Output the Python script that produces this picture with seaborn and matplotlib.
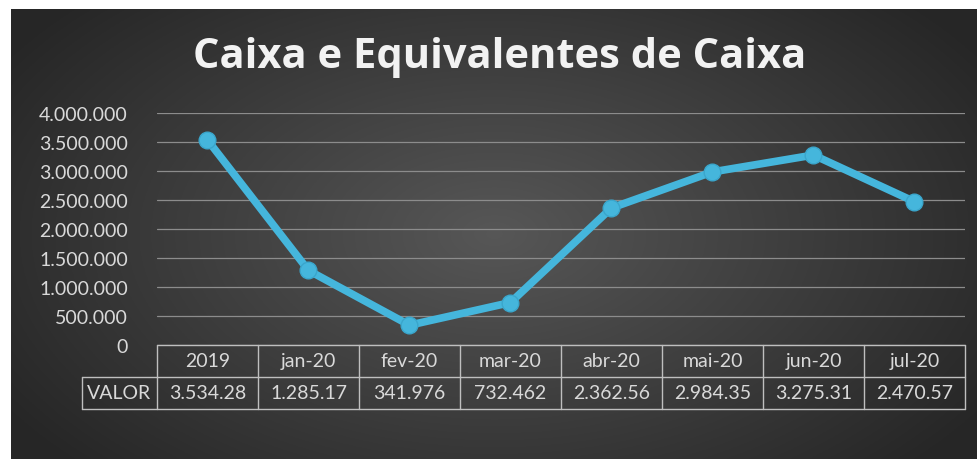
import numpy as np
import pandas as pd
import matplotlib
matplotlib.use("Agg")
import matplotlib.pyplot as plt
import seaborn as sns

# Data
categorias = ["2019", "jan-20", "fev-20", "mar-20", "abr-20", "mai-20", "jun-20", "jul-20"]
valores = [3534280, 1285170, 341976, 732462, 2362560, 2984350, 3275310, 2470570]
valor_labels = ["3.534.28", "1.285.17", "341.976", "732.462",
                "2.362.56", "2.984.35", "3.275.31", "2.470.57"]
y_ticks = [0, 500000, 1000000, 1500000, 2000000, 2500000, 3000000, 3500000, 4000000]

sns.set_style("dark")
plt.rcParams['font.family'] = ['Lato', 'DejaVu Sans']

W, H = 978, 460
fig = plt.figure(figsize=(W / 100, H / 100), dpi=100)
fig.patch.set_facecolor("white")

# Radial gradient background (dark Excel-like style)
bg = fig.add_axes([11 / W, 0, (W - 11) / W, (H - 10) / H])
gy, gx = np.mgrid[0:1:300j, 0:1:600j]
r = np.sqrt(((gx - 0.5) / 0.6) ** 2 + ((gy - 0.5) / 0.75) ** 2)
r = np.clip(r, 0, 1)
shade = 0.34 - 0.19 * r
bg.imshow(np.dstack([shade] * 3), aspect="auto", extent=[0, 1, 0, 1])
bg.set_axis_off()

# Plot area
ax = fig.add_axes([157 / W, (H - 346) / H, 808 / W, 232 / H])
ax.patch.set_alpha(0)
df = pd.DataFrame({"mes": categorias, "valor": valores})
sns.lineplot(data=df, x="mes", y="valor", ax=ax, color="#45b6dc", linewidth=5.5,
             marker="o", markersize=12, markeredgecolor="#3aa6cc",
             markeredgewidth=1, sort=False)
ax.set_xlim(-0.5, len(categorias) - 0.5)
ax.set_ylim(0, 4000000)
ax.set_yticks(y_ticks)
ax.set_yticklabels([f"{v:,}".replace(",", ".") for v in y_ticks])
ax.set_xticks([])
ax.set_xlabel("")
ax.set_ylabel("")
ax.tick_params(axis="y", length=0, pad=21, labelsize=14, labelcolor="#d9d9d9")
ax.grid(axis="y", color="#8c8c8c", linewidth=0.9)
ax.grid(axis="x", visible=False)
for s in ax.spines.values():
    s.set_visible(False)

# Data table under the plot
n = len(categorias)
row_h = 32 / 232
tkw = dict(transform=ax.transAxes, clip_on=False, color="#bfbfbf", linewidth=1)
y0, y1, y2 = 0, -row_h, -2 * row_h
lab_x = -75 / 808
ax.plot([0, 1], [y0, y0], **tkw)
ax.plot([lab_x, 1], [y1, y1], **tkw)
ax.plot([lab_x, 1], [y2, y2], **tkw)
ax.plot([lab_x, lab_x], [y1, y2], **tkw)
for i in range(n + 1):
    ax.plot([i / n, i / n], [y0, y2], **tkw)
for i, (c, v) in enumerate(zip(categorias, valor_labels)):
    xc = (i + 0.5) / n
    ax.text(xc, (y0 + y1) / 2, c, transform=ax.transAxes, ha="center", va="center",
            fontsize=14, color="#d9d9d9")
    ax.text(xc, (y1 + y2) / 2, v, transform=ax.transAxes, ha="center", va="center",
            fontsize=14, color="#d9d9d9")
ax.text(lab_x / 2, (y1 + y2) / 2, "VALOR", transform=ax.transAxes, ha="center",
        va="center", fontsize=14, color="#d9d9d9")

# Title
fig.text(500 / W, 1 - 58 / H, "Caixa e Equivalentes de Caixa", ha="center", va="center",
         fontsize=30, fontweight="bold", color="#f2f2f2", family=["Open Sans", "DejaVu Sans"])

fig.savefig("out.png", dpi=100, facecolor=fig.get_facecolor())
